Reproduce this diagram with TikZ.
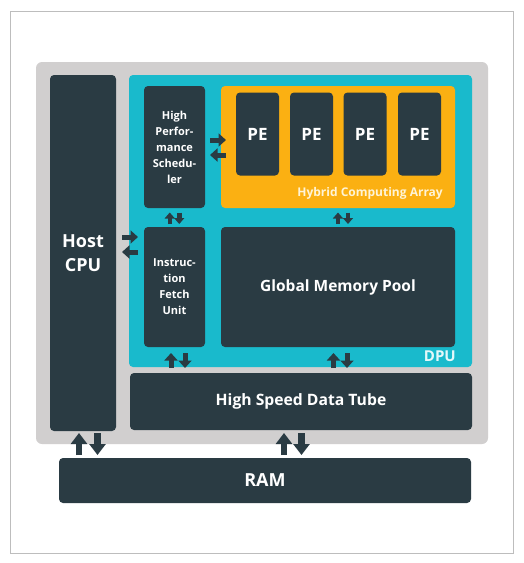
\documentclass[tikz,border=0pt]{standalone}
\usepackage{fontspec}
\setmainfont{Open Sans}
\usetikzlibrary{arrows.meta,calc}
\definecolor{dark}{HTML}{2A3B43}
\definecolor{cyanbg}{HTML}{19BACC}
\definecolor{orangebg}{HTML}{FBB012}
\definecolor{graybg}{HTML}{D1CFCF}
\definecolor{framegray}{HTML}{BDBDBD}
\definecolor{hcatext}{HTML}{FFF4D6}
\definecolor{dputext}{HTML}{E4F8FA}
\begin{document}
\begin{tikzpicture}[x=1pt,y=-1pt,
  region/.style={inner sep=0pt, outer sep=0pt, rounded corners=#1},
  box/.style={fill=dark, rounded corners=4pt, inner sep=0pt, outer sep=0pt, text=white, align=center},
  sarr/.style={draw=dark, line width=4.5pt, -{Triangle[width=10pt,length=6pt]}},
  marr/.style={draw=dark, line width=5pt, -{Triangle[width=13pt,length=7.5pt]}},
  barr/.style={draw=dark, line width=6.5pt, -{Triangle[width=16pt,length=11pt]}},
]
\useasboundingbox (0,0) rectangle (524,563);
\fill[white] (0,0) rectangle (524,563);
\draw[framegray, line width=1pt] (10.5,11.5) rectangle (513,553.5);

% containers
\node[region=6pt, fill=graybg, minimum width=452pt, minimum height=382pt] (sys) at (262,253) {};
\node[region=4pt, fill=cyanbg, minimum width=343pt, minimum height=292pt] (dpu) at (300.5,221) {};
\node[region=4pt, fill=orangebg, minimum width=234pt, minimum height=122pt] (hca) at (338,147) {};

% boxes
\node[box, minimum width=66pt, minimum height=356pt, font=\bfseries\fontsize{18}{24}\selectfont] (cpu) at (83,253) {Host\\CPU};
\node[box, minimum width=61pt, minimum height=122pt, font=\bfseries\fontsize{11}{16}\selectfont] (sched) at (174.5,147) {High\\Perfor-\\mance\\Schedu-\\ler};
\node[box, minimum width=61pt, minimum height=120pt, font=\bfseries\fontsize{11}{16}\selectfont] (ifu) at (174.5,287) {\raisebox{3pt}{\begin{tabular}{@{}c@{}}Instruc-\\tion\\Fetch\\Unit\end{tabular}}};
\foreach \i/\x in {1/257.5,2/311.5,3/365,4/419.5}
  \node[box, minimum width=43pt, minimum height=83pt, font=\bfseries\fontsize{17}{20}\selectfont] (pe\i) at (\x,134) {PE};
\node[box, minimum width=234pt, minimum height=120pt, font=\bfseries\fontsize{15.5}{20}\selectfont] (gmp) at (338,287) {Global Memory Pool};
\node[box, minimum width=342pt, minimum height=57pt, font=\bfseries\fontsize{15.7}{20}\selectfont] (tube) at (301,401.5) {High Speed Data Tube};
\node[box, minimum width=412pt, minimum height=45pt, font=\bfseries\fontsize{18}{20}\selectfont] (ram) at (265,480.5) {RAM};

% labels
\node[anchor=east, inner sep=0pt, text=hcatext, font=\bfseries\fontsize{12}{14}\selectfont] (hcalabel) at (443,193) {Hybrid Computing Array};
\node[anchor=east, inner sep=0pt, text=dputext, font=\bfseries\fontsize{15}{18}\selectfont] (dpulabel) at (456,356) {DPU};

% horizontal arrows
\coordinate (hA) at (0,237);
\coordinate (hB) at (0,252);
\coordinate (sA) at (0,140);
\coordinate (sB) at (0,155);
\draw[marr, shorten <=6pt, shorten >=6pt] (cpu.east |- hA) -- (ifu.west |- hA);
\draw[marr, shorten <=6pt, shorten >=6pt] (ifu.west |- hB) -- (cpu.east |- hB);
\draw[marr, shorten <=5pt, shorten >=-5pt] (sched.east |- sA) -- (hca.west |- sA);
\draw[marr, shorten <=-5pt, shorten >=5pt] (hca.west |- sB) -- (sched.east |- sB);

% small vertical pairs
\draw[sarr, shorten <=3pt, shorten >=4.5pt] ([xshift=-4.75pt]ifu.north) -- ([xshift=-4.75pt]sched.south);
\draw[sarr, shorten <=4.5pt, shorten >=3pt] ([xshift=4.75pt]sched.south) -- ([xshift=4.75pt]ifu.north);
\draw[sarr, shorten <=3pt, shorten >=4.5pt] ([xshift=0pt]gmp.north) -- ([xshift=0pt]hca.south);
\draw[sarr, shorten <=4.5pt, shorten >=3pt] ([xshift=10pt]hca.south) -- ([xshift=10pt]gmp.north);

% DPU bottom pairs
\draw[marr, shorten <=5pt, shorten >=6pt] ([xshift=-3.5pt]ifu.south |- tube.north) -- ([xshift=-3.5pt]ifu.south);
\draw[marr, shorten <=6pt, shorten >=5pt] ([xshift=10.5pt]ifu.south) -- ([xshift=10.5pt]ifu.south |- tube.north);
\draw[marr, shorten <=5pt, shorten >=6pt] ([xshift=-4.5pt]gmp.south |- tube.north) -- ([xshift=-4.5pt]gmp.south);
\draw[marr, shorten <=6pt, shorten >=5pt] ([xshift=9pt]gmp.south) -- ([xshift=9pt]gmp.south |- tube.north);

% big pairs to RAM
\draw[barr, shorten <=3pt, shorten >=2pt] ([xshift=-4pt]cpu.south |- ram.north) -- ([xshift=-4pt]cpu.south);
\draw[barr, shorten <=2pt, shorten >=3pt] ([xshift=14.5pt]cpu.south) -- ([xshift=14.5pt]cpu.south |- ram.north);
\draw[barr, shorten <=3pt, shorten >=3pt] ([xshift=-17pt]tube.south |- ram.north) -- ([xshift=-17pt]tube.south);
\draw[barr, shorten <=3pt, shorten >=3pt] ([xshift=0.5pt]tube.south) -- ([xshift=0.5pt]tube.south |- ram.north);
\end{tikzpicture}
\end{document}
